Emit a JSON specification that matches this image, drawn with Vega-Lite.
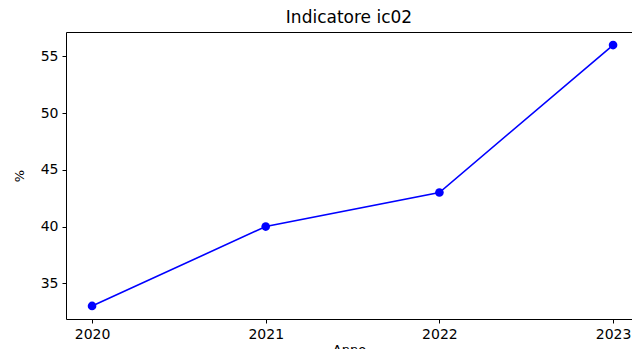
{
  "$schema": "https://vega.github.io/schema/vega-lite/v6.json",
  "autosize": "none",
  "width": 566,
  "height": 287,
  "padding": {"left": 66, "top": 32, "right": 0, "bottom": 30},
  "background": "white",
  "title": {"text": "Indicatore ic02", "fontSize": 17, "font": "DejaVu Sans", "fontWeight": "normal", "color": "#000000", "offset": 5, "anchor": "middle"},
  "config": {
    "view": {"stroke": null},
    "axis": {"grid": false, "domainColor": "#000000", "tickColor": "#000000", "labelColor": "#000000", "titleColor": "#000000", "labelFont": "DejaVu Sans", "titleFont": "DejaVu Sans", "labelFontSize": 14, "titleFontSize": 13, "titleFontWeight": "normal", "tickSize": 4, "labelPadding": 4, "domainWidth": 1}
  },
  "data": {"values": [
    {"Anno": 2020, "valore": 33},
    {"Anno": 2021, "valore": 40},
    {"Anno": 2022, "valore": 43},
    {"Anno": 2023, "valore": 56}
  ]},
  "encoding": {
    "x": {"field": "Anno", "type": "quantitative", "scale": {"domain": [2019.85, 2023.109], "nice": false, "zero": false}},
    "y": {"field": "valore", "type": "quantitative", "scale": {"domain": [31.85, 57.15], "nice": false, "zero": false},
      "axis": {"title": "%", "values": [35, 40, 45, 50, 55], "titlePadding": 14}}
  },
  "layer": [
    {
      "mark": {"type": "line", "color": "#0000ff", "strokeWidth": 1.6},
      "encoding": {
        "x": {"field": "Anno", "type": "quantitative", "axis": {"title": "Anno", "values": [2020, 2021, 2022, 2023], "format": "d", "titlePadding": 2}}
      }
    },
    {
      "mark": {"type": "point", "filled": true, "color": "#0000ff", "size": 75, "opacity": 1},
      "encoding": {
        "x": {"field": "Anno", "type": "quantitative", "axis": {"orient": "top", "labels": false, "ticks": false, "title": null, "domain": true}}
      }
    }
  ],
  "resolve": {"axis": {"x": "independent"}}
}
